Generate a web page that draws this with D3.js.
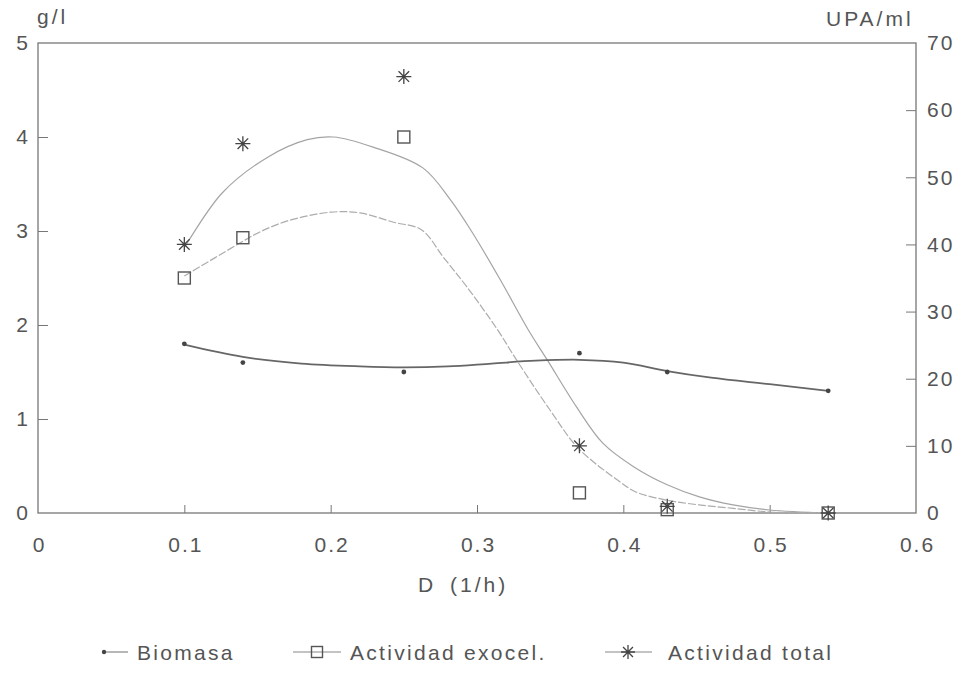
<!DOCTYPE html>
<html>
<head>
<meta charset="utf-8">
<script src="https://cdn.jsdelivr.net/npm/d3@7"></script>
<style>
  html, body { margin: 0; padding: 0; background: #fff; }
  svg { display: block; }
  text { font-family: "Liberation Sans", Arial, sans-serif; fill: #555; }
</style>
</head>
<body>
<svg id="chart" width="967" height="673"></svg>
<script>
// Measured dilution rates and responses
const dilution = [0.10, 0.14, 0.25, 0.37, 0.43, 0.54];
const biomasa = [1.8, 1.6, 1.5, 1.7, 1.5, 1.3];          // g/l
const actExocel = [35, 41, 56, 3, 0.5, 0];               // UPA/ml
const actTotal = [40, 55, 65, 10, 1, 0];                 // UPA/ml

// Smoothed trend lines
const fitBiomasaD = [0.10, 0.14, 0.18, 0.22, 0.25, 0.28, 0.31, 0.34, 0.37, 0.40, 0.43, 0.46, 0.50, 0.54];
const fitBiomasa = [1.79, 1.66, 1.59, 1.56, 1.55, 1.56, 1.59, 1.62, 1.63, 1.60, 1.51, 1.44, 1.37, 1.30];

const fitTotalD = [0.10, 0.126, 0.157, 0.184, 0.202, 0.229, 0.263, 0.282, 0.297, 0.316, 0.335, 0.348, 0.368, 0.386, 0.407, 0.430, 0.452, 0.475, 0.500, 0.540];
const fitTotal = [39.5, 47.7, 53.0, 55.6, 56.0, 54.5, 51.4, 46.6, 41.7, 34.7, 27.3, 22.8, 15.8, 10.4, 6.9, 4.2, 2.4, 1.2, 0.45, 0];

const fitExocelD = [0.10, 0.138, 0.152, 0.172, 0.200, 0.220, 0.243, 0.262, 0.277, 0.293, 0.314, 0.327, 0.350, 0.369, 0.396, 0.409, 0.430, 0.452, 0.475, 0.500, 0.540];
const fitExocel = [35.3, 40.2, 41.9, 43.6, 44.8, 44.7, 43.3, 42.2, 38.1, 33.7, 27.3, 22.8, 15.3, 9.7, 4.9, 3.1, 1.9, 1.2, 0.7, 0.15, 0];

const xTicks = [0, 0.1, 0.2, 0.3, 0.4, 0.5, 0.6];
const xTickLabels = ["0", "0.1", "0.2", "0.3", "0.4", "0.5", "0.6"];
const leftTicks = [0, 1, 2, 3, 4, 5];
const rightTicks = [0, 10, 20, 30, 40, 50, 60, 70];

const legendLabels = ["Biomasa", "Actividad exocel.", "Actividad total"];

const svg = d3.select("#chart");
const plot = { left: 38, right: 916, top: 43, bottom: 513 };

const x = d3.scaleLinear().domain([0, 0.6]).range([plot.left, plot.right]);
const yL = d3.scaleLinear().domain([0, 5]).range([plot.bottom, plot.top]);
const yR = d3.scaleLinear().domain([0, 70]).range([plot.bottom, plot.top]);

const axisColor = "#777";
const fontSize = 21;
const spacing = "2px";

function styleText(sel) {
  sel.style("font-size", fontSize + "px").style("letter-spacing", spacing)
    .style("font-family", "'Liberation Sans', Arial, sans-serif").attr("fill", "#555");
}

// Frame
svg.append("rect")
  .attr("x", plot.left).attr("y", plot.top)
  .attr("width", plot.right - plot.left).attr("height", plot.bottom - plot.top)
  .attr("fill", "none").attr("stroke", axisColor).attr("stroke-width", 1.3);

// X axis (ticks pointing inward)
const xAxis = svg.append("g").attr("transform", `translate(0,${plot.bottom})`)
  .call(d3.axisBottom(x).tickValues(xTicks).tickSizeInner(-8).tickSizeOuter(0)
    .tickFormat((d, i) => xTickLabels[i]));
xAxis.select(".domain").remove();
xAxis.selectAll(".tick line").attr("stroke", axisColor)
  .filter(d => d === 0 || d === 0.6).remove();
xAxis.selectAll("text").call(styleText).attr("dy", "0.71em").attr("y", 24).attr("dx", "1px");

// Left axis
const lAxis = svg.append("g").attr("transform", `translate(${plot.left},0)`)
  .call(d3.axisLeft(yL).tickValues(leftTicks).tickSizeInner(-10).tickSizeOuter(0)
    .tickFormat(d3.format("d")));
lAxis.select(".domain").remove();
lAxis.selectAll(".tick line").attr("stroke", axisColor)
  .filter(d => d === 0 || d === 5).remove();
lAxis.selectAll("text").call(styleText).attr("x", -8);

// Right axis
const rAxis = svg.append("g").attr("transform", `translate(${plot.right},0)`)
  .call(d3.axisRight(yR).tickValues(rightTicks).tickSizeInner(-10).tickSizeOuter(0)
    .tickFormat(d3.format("d")));
rAxis.select(".domain").remove();
rAxis.selectAll(".tick line").attr("stroke", axisColor)
  .filter(d => d === 0 || d === 70).remove();
rAxis.selectAll("text").call(styleText).attr("x", 11);

// Axis titles
svg.append("text").attr("x", 37).attr("y", 24).call(styleText).style("letter-spacing", "3px").text("g/l");
svg.append("text").attr("x", 826).attr("y", 26).call(styleText).style("letter-spacing", "3px").text("UPA/ml");
svg.append("text").attr("x", 418).attr("y", 592).call(styleText)
  .style("letter-spacing", "3px").style("word-spacing", "5px").text("D (1/h)");

// Trend lines
const lineOf = (xs, ys, yScale) => d3.line()
  .x((d, i) => x(xs[i])).y((d, i) => yScale(ys[i]))
  .curve(d3.curveCatmullRom.alpha(0.5))(ys);

svg.append("path").attr("d", lineOf(fitTotalD, fitTotal, yR))
  .attr("fill", "none").attr("stroke", "#a4a4a4").attr("stroke-width", 1.2);
svg.append("path").attr("d", lineOf(fitExocelD, fitExocel, yR))
  .attr("fill", "none").attr("stroke", "#acacac").attr("stroke-width", 1.2)
  .attr("stroke-dasharray", "8,2");
svg.append("path").attr("d", lineOf(fitBiomasaD, fitBiomasa, yL))
  .attr("fill", "none").attr("stroke", "#666").attr("stroke-width", 1.8);

// Marker shapes
function star(g, cx, cy, r) {
  const p = d3.path();
  for (let k = 0; k < 4; k++) {
    const a = k * Math.PI / 4;
    p.moveTo(cx - r * Math.cos(a), cy - r * Math.sin(a));
    p.lineTo(cx + r * Math.cos(a), cy + r * Math.sin(a));
  }
  g.append("path").attr("d", p.toString()).attr("stroke", "#444").attr("stroke-width", 1.3).attr("fill", "none");
}
function square(g, cx, cy, s) {
  g.append("rect").attr("x", cx - s / 2).attr("y", cy - s / 2).attr("width", s).attr("height", s)
    .attr("fill", "none").attr("stroke", "#555").attr("stroke-width", 1.4);
}
function dot(g, cx, cy, r) {
  g.append("circle").attr("cx", cx).attr("cy", cy).attr("r", r).attr("fill", "#444");
}

const marks = svg.append("g");
dilution.forEach((d, i) => {
  dot(marks, x(d), yL(biomasa[i]), 2.4);
  square(marks, x(d), yR(actExocel[i]), 12);
  star(marks, x(d), yR(actTotal[i]), 7.5);
});

// Legend
const legendY = 652;
const lg = svg.append("g");
// Biomasa
lg.append("line").attr("x1", 104).attr("x2", 128).attr("y1", legendY).attr("y2", legendY)
  .attr("stroke", "#888").attr("stroke-width", 1.2);
dot(lg, 104, legendY, 2.2);
lg.append("text").attr("x", 137).attr("y", legendY).attr("dy", "0.36em").call(styleText)
  .style("letter-spacing", "2.3px").text(legendLabels[0]);
// Actividad exocel.
lg.append("line").attr("x1", 293).attr("x2", 341).attr("y1", legendY).attr("y2", legendY)
  .attr("stroke", "#888").attr("stroke-width", 1.2);
square(lg, 317, legendY, 11);
lg.append("text").attr("x", 350).attr("y", legendY).attr("dy", "0.36em").call(styleText)
  .style("letter-spacing", "2.3px").text(legendLabels[1]);
// Actividad total
lg.append("line").attr("x1", 605).attr("x2", 652).attr("y1", legendY).attr("y2", legendY)
  .attr("stroke", "#888").attr("stroke-width", 1.2);
star(lg, 628, legendY, 7);
lg.append("text").attr("x", 668).attr("y", legendY).attr("dy", "0.36em").call(styleText)
  .style("letter-spacing", "2.3px").text(legendLabels[2]);
</script>
</body>
</html>
